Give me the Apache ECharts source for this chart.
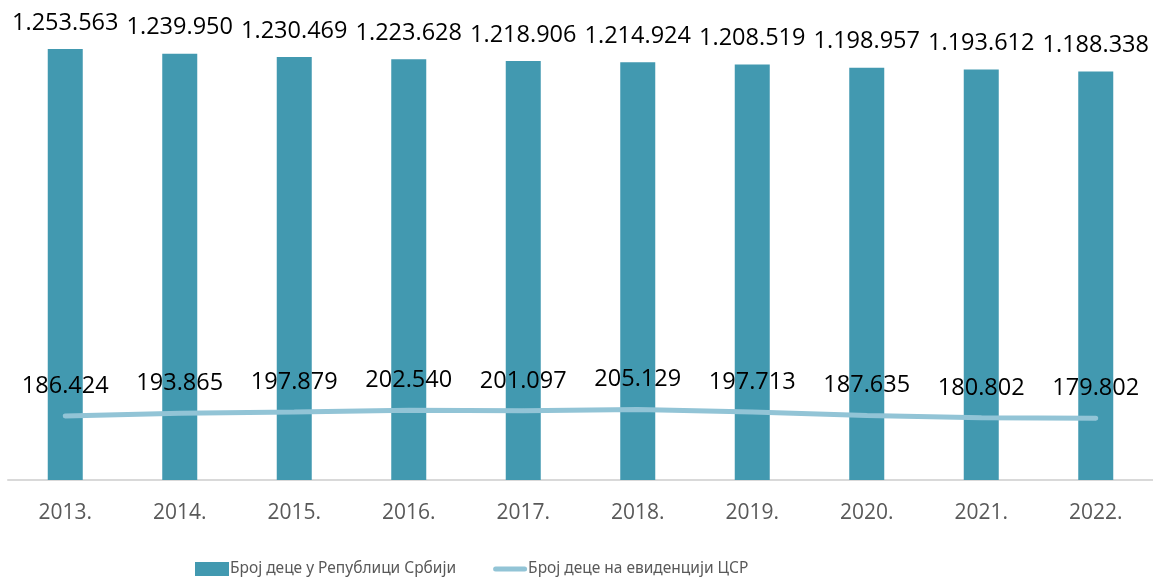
<!DOCTYPE html>
<html>
<head>
    <meta charset="UTF-8">
    <title>Број деце</title>
    <script src="https://cdn.jsdelivr.net/npm/echarts@6/dist/echarts.min.js"></script>
</head>
<body style="margin:0">
<div id="chart" style="width: 1153px; height: 578px"></div>
<script>
    var years = ['2013.', '2014.', '2015.', '2016.', '2017.', '2018.', '2019.', '2020.', '2021.', '2022.'];
    var djecaSrbija = [1253563, 1239950, 1230469, 1223628, 1218906, 1214924, 1208519, 1198957, 1193612, 1188338];
    var djecaCSR = [186424, 193865, 197879, 202540, 201097, 205129, 197713, 187635, 180802, 179802];

    function fmt(v) {
        return String(v).replace(/\B(?=(\d{3})+(?!\d))/g, '.');
    }

    var myChart = echarts.init(document.getElementById('chart'));
    var option = {
        backgroundColor: '#fff',
        textStyle: { fontFamily: 'Open Sans' },
        grid: { left: 8, right: 0, top: 10, bottom: 98 },
        legend: {
            left: 190,
            top: 556,
            itemGap: 37,
            itemWidth: 34,
            itemHeight: 14,
            textStyle: {
                color: '#595959', fontSize: 15.5,
                fontFamily: 'Noto Sans',
                padding: [0, 0, 0, -4]
            },
            data: [
                { name: 'Број деце у Републици Србији', icon: 'rect' },
                { name: 'Број деце на евиденцији ЦСР', icon: 'path://M2.5,0 L31.5,0 A2.5,2.5 0 0 1 31.5,5 L2.5,5 A2.5,2.5 0 0 1 2.5,0 Z' }
            ]
        },
        xAxis: {
            type: 'category',
            data: years,
            axisLine: { lineStyle: { color: '#d9d9d9', width: 2 } },
            axisTick: { show: false },
            axisLabel: { color: '#595959', fontSize: 21, margin: 23 }
        },
        yAxis: {
            type: 'value',
            min: 0,
            max: 1367000,
            show: false,
            splitLine: { show: false }
        },
        series: [
            {
                name: 'Број деце у Републици Србији',
                type: 'bar',
                data: djecaSrbija,
                barWidth: 35,
                itemStyle: { color: '#4299b0' },
                label: {
                    show: true,
                    position: 'top',
                    distance: 14,
                    color: '#000',
                    fontSize: 23.5,
                    formatter: function (p) { return fmt(p.value); }
                }
            },
            {
                name: 'Број деце на евиденцији ЦСР',
                type: 'line',
                data: djecaCSR,
                showSymbol: true,
                symbol: 'circle',
                symbolSize: 4,
                lineStyle: { color: '#92c4d6', width: 5, cap: 'round' },
                itemStyle: { color: '#92c4d6' },
                label: {
                    show: true,
                    position: 'top',
                    distance: 16,
                    color: '#000',
                    fontSize: 23.5,
                    formatter: function (p) { return fmt(p.value); }
                },
                z: 3
            }
        ]
    };
    myChart.setOption(option);
</script>
</body>
</html>
